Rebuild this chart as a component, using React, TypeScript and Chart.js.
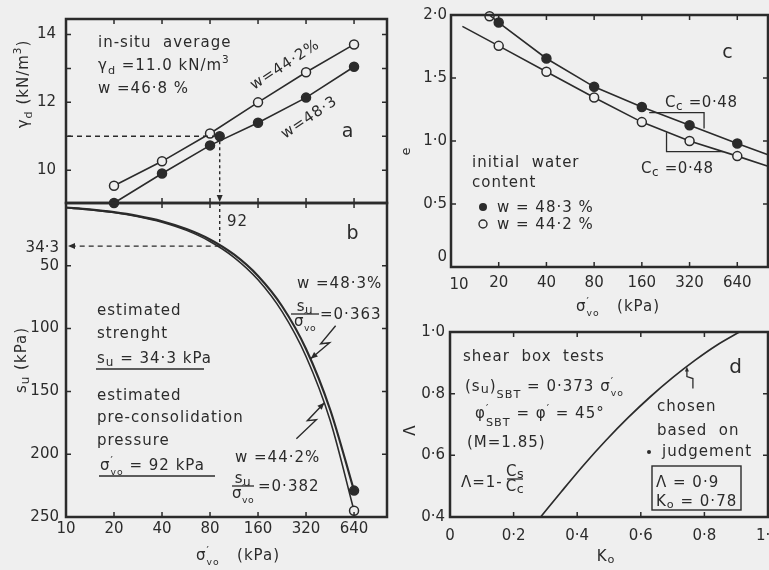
import React, { useEffect, useRef } from "react";
import { Chart, registerables } from "chart.js";
Chart.register(...registerables);

// ---------------- data ----------------
const SIGMA_TICKS = [10, 20, 40, 80, 160, 320, 640];
const SIGMA_MARKS = [20, 40, 80, 160, 320, 640];

// panel a : dry unit weight vs consolidation pressure
const A_SIGMA = [20, 40, 80, 160, 320, 640];
const A_GAMMA_W442 = [9.54, 10.26, 11.08, 12.0, 12.89, 13.71];
const A_GAMMA_W483 = [9.03, 9.9, 10.73, 11.4, 12.14, 13.05];
const A_YTICKS = [10, 12, 14];
const A_YMARKS = [10, 11, 12, 13, 14];
const INSITU_SIGMA = 92;
const INSITU_GAMMA = 11.0;
const INSITU_SU = 34.3;

// panel b : undrained strength vs pressure
const B_SIGMA = [10, 14, 20, 28, 40, 57, 80, 113, 160, 226, 320, 453, 640];
const B_SU_W483 = [3.6, 5.1, 7.3, 10.2, 14.5, 20.7, 29.0, 41.0, 58.1, 82.0, 116.2, 164.4, 229];
const B_SU_W442 = [3.8, 5.3, 7.6, 10.7, 15.3, 21.8, 30.6, 43.2, 61.1, 86.3, 122.2, 173.0, 245];
const B_YTICKS = [50, 100, 150, 200, 250];
const B_YMARKS = [50, 100, 150, 200];

// panel c : void ratio vs pressure
const C_SIGMA_W483 = [17.5, 20, 40, 80, 160, 320, 640, 1000];
const C_E_W483 = [2.0, 1.94, 1.655, 1.43, 1.27, 1.125, 0.98, 0.89];
const C_SIGMA_W442 = [11.8, 20, 40, 80, 160, 320, 640, 1000];
const C_E_W442 = [1.91, 1.755, 1.55, 1.345, 1.15, 1.0, 0.88, 0.8];
const C_TOP_SIGMA = [17.5];
const C_TOP_E = [1.99];
const C_SLOPE_UP_SIGMA = [178, 395, 395];
const C_SLOPE_UP_E = [1.225, 1.225, 1.1];
const C_SLOPE_LO_SIGMA = [229, 229, 525];
const C_SLOPE_LO_E = [1.07, 0.915, 0.915];
const C_YTICKS = [0.5, 1.0, 1.5, 2.0];
const C_YMARKS = [0.5, 1.0, 1.5];

// panel d : Lambda vs K0
const D_K0 = [0.285, 0.35, 0.42, 0.49, 0.56, 0.63, 0.7, 0.77, 0.84, 0.91];
const D_LAMBDA = [0.4, 0.482, 0.568, 0.648, 0.722, 0.79, 0.852, 0.908, 0.958, 1.0];
const D_XTICKS = [0, 0.2, 0.4, 0.6, 0.8, 1.0];
const D_XMARKS = [0.2, 0.4, 0.6, 0.8];
const D_YTICKS = [0.4, 0.6, 0.8, 1.0];
const D_YMARKS = [0.6, 0.8];

// ---------------- style / layout ----------------
const CW = 840;
const CH = 600;
const BG = "#efefef";
const INK = "#2b2b2b";
const FAMILY = '"DejaVu Sans", sans-serif';

const BOX_A = { l: 66, t: 13, r: 387, b: 203, yw: 60, xh: 0 };
const BOX_B = { l: 66, t: 203, r: 387, b: 517, yw: 60, xh: 40 };
const BOX_C = { l: 451, t: 15, r: 768, b: 267, yw: 50, xh: 30 };
const BOX_D = { l: 450, t: 332, r: 768, b: 517, yw: 50, xh: 30 };

type Run = { t: string; dy?: number; s?: number; na?: boolean };
type R = string | Run;

const fnt = (size: number) => `${size}px ${FAMILY}`;
const dot = (v: number) => (v === 0 ? "0" : v.toFixed(1).replace(".", "·"));

const SIG: R[] = [{ t: "σ" }, { t: "′", dy: -0.42, s: 0.7, na: true }, { t: "vo", dy: 0.3, s: 0.62 }];
const SU: R[] = [{ t: "s" }, { t: "u", dy: 0.22, s: 0.8 }];
const CC: R[] = [{ t: "C" }, { t: "c", dy: 0.2, s: 0.8 }];

function rich(ctx: CanvasRenderingContext2D, x: number, y: number, runs: R[], size = 15, align = "left", ls = 1) {
  const items: Run[] = runs.map((r) => (typeof r === "string" ? { t: r } : r));
  ctx.save();
  ctx.fillStyle = INK;
  ctx.textAlign = "left";
  ctx.textBaseline = "alphabetic";
  (ctx as any).letterSpacing = `${ls}px`;
  const widths = items.map((it) => {
    ctx.font = fnt(size * (it.s ?? 1));
    return ctx.measureText(it.t).width;
  });
  const total = items.reduce((a, it, i) => a + (it.na ? 0 : widths[i]), 0);
  let cx = align === "left" ? x : align === "center" ? x - total / 2 : x - total;
  items.forEach((it, i) => {
    ctx.font = fnt(size * (it.s ?? 1));
    ctx.fillText(it.t, cx, y + (it.dy ?? 0) * size);
    if (!it.na) cx += widths[i];
  });
  ctx.restore();
  return total;
}

function richRot(ctx: CanvasRenderingContext2D, x: number, y: number, ang: number, runs: R[], size = 15, align = "left", ls = 1) {
  ctx.save();
  ctx.translate(x, y);
  ctx.rotate(ang);
  rich(ctx, 0, 0, runs, size, align, ls);
  ctx.restore();
}

function seg(ctx: CanvasRenderingContext2D, pts: number[][], lw = 1.4, dash: number[] = []) {
  ctx.save();
  ctx.strokeStyle = INK;
  ctx.lineWidth = lw;
  ctx.setLineDash(dash);
  ctx.beginPath();
  pts.forEach((p, i) => (i === 0 ? ctx.moveTo(p[0], p[1]) : ctx.lineTo(p[0], p[1])));
  ctx.stroke();
  ctx.restore();
}

function arrowHead(ctx: CanvasRenderingContext2D, x: number, y: number, ang: number, len = 7, half = 3) {
  ctx.save();
  ctx.fillStyle = INK;
  ctx.beginPath();
  ctx.moveTo(x, y);
  ctx.lineTo(x - len * Math.cos(ang) + half * Math.sin(ang), y - len * Math.sin(ang) - half * Math.cos(ang));
  ctx.lineTo(x - len * Math.cos(ang) - half * Math.sin(ang), y - len * Math.sin(ang) + half * Math.cos(ang));
  ctx.closePath();
  ctx.fill();
  ctx.restore();
}

function bolt(ctx: CanvasRenderingContext2D, tx: number, ty: number, rel: number[][]) {
  const pts = rel.map((p) => [tx + p[0], ty + p[1]]);
  pts.push([tx, ty]);
  seg(ctx, pts, 1.4);
  const last = rel[rel.length - 1];
  arrowHead(ctx, tx, ty, Math.atan2(-last[1], -last[0]), 7, 3);
}

function frac(ctx: CanvasRenderingContext2D, cx: number, yBar: number, num: R[], den: R[], half: number, size = 15) {
  rich(ctx, cx, yBar - 3, num, size, "center", 0.5);
  rich(ctx, cx, yBar + 12, den, size, "center", 0.5);
  seg(ctx, [[cx - half, yBar], [cx + half, yBar]], 1.3);
}

function frame(chart: any, xm: number[], ym: number[], len = 5) {
  const { ctx, chartArea: a, scales } = chart;
  const xs = scales.x;
  const ys = scales.y;
  ctx.save();
  ctx.strokeStyle = INK;
  ctx.lineWidth = 1.5;
  ctx.beginPath();
  xm.forEach((v) => {
    const p = xs.getPixelForValue(v);
    ctx.moveTo(p, a.top);
    ctx.lineTo(p, a.top + len);
    ctx.moveTo(p, a.bottom);
    ctx.lineTo(p, a.bottom - len);
  });
  ym.forEach((v) => {
    const p = ys.getPixelForValue(v);
    ctx.moveTo(a.left, p);
    ctx.lineTo(a.left + len, p);
    ctx.moveTo(a.right, p);
    ctx.lineTo(a.right - len, p);
  });
  ctx.stroke();
  ctx.lineWidth = 2.5;
  ctx.strokeRect(a.left, a.top, a.right - a.left, a.bottom - a.top);
  ctx.restore();
}

const tickFont = { family: FAMILY, size: 15 };

function logX(min: number, max: number, show: boolean, pad: number, h: number, ticks: number[]) {
  return {
    type: "logarithmic",
    min,
    max,
    grid: { display: false, drawTicks: false },
    border: { display: false },
    ticks: { display: show, autoSkip: false, maxRotation: 0, minRotation: 0, padding: pad, font: tickFont, color: INK, callback: (v: any) => String(v) },
    afterBuildTicks: (s: any) => {
      s.ticks = ticks.map((v) => ({ value: v }));
    },
    afterFit: (s: any) => {
      s.height = h;
    },
  };
}

function linAxis(min: number, max: number, ticks: number[], fmt: (v: number) => string, pad: number, size: number, vertical: boolean, reverse = false) {
  return {
    type: "linear",
    min,
    max,
    reverse,
    grid: { display: false, drawTicks: false },
    border: { display: false },
    ticks: { autoSkip: false, maxRotation: 0, minRotation: 0, padding: pad, font: tickFont, color: INK, callback: (v: any) => fmt(Number(v)) },
    afterBuildTicks: (s: any) => {
      s.ticks = ticks.map((v) => ({ value: v }));
    },
    afterFit: (s: any) => {
      if (vertical) s.width = size;
      else s.height = size;
    },
  };
}

function pad(b: { l: number; t: number; r: number; b: number; yw: number; xh: number }) {
  return { left: b.l - b.yw, top: b.t, right: CW - b.r, bottom: CH - b.b - b.xh };
}

const pts = (xs: number[], ys: number[]) => xs.map((x, i) => ({ x, y: ys[i] }));

function base(box: any, scales: any, datasets: any[], draw: (chart: any) => void) {
  return {
    type: "scatter",
    data: { datasets },
    options: {
      responsive: false,
      animation: false,
      devicePixelRatio: 1,
      events: [],
      layout: { padding: pad(box) },
      plugins: { legend: { display: false }, tooltip: { enabled: false } },
      scales,
    },
    plugins: [{ id: "decor", afterDraw: draw }],
  } as any;
}

const lineDs = (data: any[], filled: boolean, extra: any = {}) => ({
  data,
  showLine: true,
  borderColor: INK,
  borderWidth: 1.6,
  tension: 0,
  pointRadius: 4.5,
  pointBorderWidth: 1.5,
  pointBorderColor: INK,
  pointBackgroundColor: filled ? INK : BG,
  clip: false,
  ...extra,
});

// ---------------- panels ----------------
function configA() {
  return base(
    BOX_A,
    {
      x: logX(10, 1030, false, 0, 0, SIGMA_TICKS),
      y: linAxis(9.03, 14.46, A_YTICKS, (v) => String(v), 10, BOX_A.yw, true),
    },
    [
      lineDs(pts(A_SIGMA, A_GAMMA_W442), false),
      lineDs(pts(A_SIGMA, A_GAMMA_W483), true),
      lineDs([{ x: INSITU_SIGMA, y: INSITU_GAMMA }], true, { showLine: false }),
    ],
    (chart) => {
      const { ctx, chartArea: a, scales } = chart;
      frame(chart, SIGMA_MARKS, A_YMARKS);
      const px = scales.x.getPixelForValue(INSITU_SIGMA);
      const py = scales.y.getPixelForValue(INSITU_GAMMA);
      seg(ctx, [[a.left + 2, py], [px - 5, py]], 1.4, [5, 4]);
      seg(ctx, [[px, py + 5], [px, a.bottom - 6]], 1.4, [3, 3]);
      arrowHead(ctx, px, a.bottom - 1, Math.PI / 2, 7, 3);
      rich(ctx, 98, 47, ["in-situ  average"]);
      rich(ctx, 98, 70, [{ t: "γ" }, { t: "d", dy: 0.25, s: 0.75 }, " =11.0 kN/m", { t: "3", dy: -0.45, s: 0.7 }]);
      rich(ctx, 98, 93, ["w =46·8 %"]);
      richRot(ctx, 254, 90, (-33 * Math.PI) / 180, ["w=44·2%"]);
      richRot(ctx, 285, 139, (-34 * Math.PI) / 180, ["w=48·3"]);
      rich(ctx, 348, 137, ["a"], 19, "center");
      richRot(ctx, 28, 84, -Math.PI / 2, [{ t: "γ" }, { t: "d", dy: 0.25, s: 0.75 }, " (kN/m", { t: "3", dy: -0.45, s: 0.7 }, ")"], 15, "center");
    }
  );
}

function configB() {
  const last = B_SIGMA.length - 1;
  return base(
    BOX_B,
    {
      x: logX(10, 1030, true, 3, BOX_B.xh, SIGMA_TICKS),
      y: linAxis(0, 250, B_YTICKS, (v) => String(v), 7, BOX_B.yw, true, true),
    },
    [
      lineDs(pts(B_SIGMA, B_SU_W483), true, { cubicInterpolationMode: "monotone", borderWidth: 2.2, pointRadius: (c: any) => (c.dataIndex === last ? 4.5 : 0) }),
      lineDs(pts(B_SIGMA, B_SU_W442), false, { cubicInterpolationMode: "monotone", borderWidth: 1.6, pointRadius: (c: any) => (c.dataIndex === last ? 4.5 : 0) }),
    ],
    (chart) => {
      const { ctx, chartArea: a, scales } = chart;
      frame(chart, SIGMA_MARKS, B_YMARKS);
      const px = scales.x.getPixelForValue(INSITU_SIGMA);
      const py = scales.y.getPixelForValue(INSITU_SU);
      seg(ctx, [[px, a.top], [px, py]], 1.4, [3, 3]);
      seg(ctx, [[px, py], [a.left + 8, py]], 1.4, [5, 4]);
      arrowHead(ctx, a.left + 2, py, Math.PI, 7, 3);
      rich(ctx, a.left - 7, py + 6, ["34·3"], 15, "right", 0);
      rich(ctx, 227, 226, ["92"]);
      rich(ctx, 353, 239, ["b"], 19, "center");
      // w = 48.3 %
      rich(ctx, 297, 288, ["w =48·3%"]);
      frac(ctx, 305, 314, SU, SIG, 14);
      rich(ctx, 320, 319, ["=0·363"]);
      bolt(ctx, scales.x.getPixelForValue(342), scales.y.getPixelForValue(124), [[25, -33], [10, -15], [19, -16]]);
      // w = 44.2 %
      rich(ctx, 235, 462, ["w =44·2%"]);
      frac(ctx, 243, 486, SU, SIG, 11);
      rich(ctx, 258, 491, ["=0·382"]);
      bolt(ctx, scales.x.getPixelForValue(417), scales.y.getPixelForValue(159), [[-28, 36], [-8, 17], [-17, 18]]);
      // notes
      rich(ctx, 97, 315, ["estimated"]);
      rich(ctx, 97, 338, ["strenght"]);
      rich(ctx, 97, 363, [...SU, " = 34·3 kPa"]);
      seg(ctx, [[96, 369], [204, 369]], 1.4);
      rich(ctx, 97, 400, ["estimated"]);
      rich(ctx, 97, 422, ["pre-consolidation"]);
      rich(ctx, 97, 445, ["pressure"]);
      rich(ctx, 100, 470, [...SIG, " = 92 kPa"]);
      seg(ctx, [[99, 476], [215, 476]], 1.4);
      // axis titles
      rich(ctx, 238, 560, [...SIG, "   (kPa)"], 15, "center");
      richRot(ctx, 26, 360, -Math.PI / 2, [...SU, " (kPa)"], 15, "center");
    }
  );
}

function configC() {
  const n1 = C_SIGMA_W483.length - 1;
  const n2 = C_SIGMA_W442.length - 1;
  return base(
    BOX_C,
    {
      x: logX(10, 1000, true, 7, BOX_C.xh, SIGMA_TICKS.slice(1)),
      y: linAxis(0, 2.0, C_YTICKS, dot, 4, BOX_C.yw, true),
    },
    [
      lineDs(pts(C_SIGMA_W483, C_E_W483), true, { pointRadius: (c: any) => (c.dataIndex === 0 || c.dataIndex === n1 ? 0 : 4.5) }),
      lineDs(pts(C_SIGMA_W442, C_E_W442), false, { pointRadius: (c: any) => (c.dataIndex === 0 || c.dataIndex === n2 ? 0 : 4.5) }),
      lineDs(pts(C_TOP_SIGMA, C_TOP_E), false, { showLine: false }),
      lineDs(pts(C_SLOPE_UP_SIGMA, C_SLOPE_UP_E), false, { pointRadius: 0, borderWidth: 1.3 }),
      lineDs(pts(C_SLOPE_LO_SIGMA, C_SLOPE_LO_E), false, { pointRadius: 0, borderWidth: 1.3 }),
    ],
    (chart) => {
      const { ctx, chartArea: a } = chart;
      frame(chart, SIGMA_MARKS, C_YMARKS);
      rich(ctx, a.left - 4, 261, ["0"], 15, "right", 0);
      rich(ctx, 459, 289, ["10"], 15, "center", 0);
      rich(ctx, 728, 58, ["c"], 19, "center");
      rich(ctx, 665, 107, [...CC, " =0·48"], 15, "left", 0.6);
      rich(ctx, 641, 173, [...CC, " =0·48"], 15, "left", 0.6);
      rich(ctx, 472, 167, ["initial  water"]);
      rich(ctx, 472, 187, ["content"]);
      ctx.save();
      ctx.strokeStyle = INK;
      ctx.fillStyle = INK;
      ctx.lineWidth = 1.4;
      ctx.beginPath();
      ctx.arc(483, 207, 4, 0, Math.PI * 2);
      ctx.fill();
      ctx.beginPath();
      ctx.arc(483, 224, 4, 0, Math.PI * 2);
      ctx.stroke();
      ctx.restore();
      rich(ctx, 497, 212, ["w = 48·3 %"]);
      rich(ctx, 497, 229, ["w = 44·2 %"]);
      rich(ctx, 618, 311, [...SIG, "   (kPa)"], 15, "center");
      richRot(ctx, 410, 151, -Math.PI / 2, ["e"], 13, "center");
    }
  );
}

function configD() {
  return base(
    BOX_D,
    {
      x: linAxis(0, 1.0, D_XTICKS, dot, 10, BOX_D.xh, false),
      y: linAxis(0.4, 1.0, D_YTICKS, dot, 5, BOX_D.yw, true),
    },
    [lineDs(pts(D_K0, D_LAMBDA), false, { pointRadius: 0, cubicInterpolationMode: "monotone", borderWidth: 1.7 })],
    (chart) => {
      const { ctx } = chart;
      frame(chart, D_XMARKS, D_YMARKS);
      rich(ctx, 463, 361, ["shear  box  tests"]);
      rich(ctx, 465, 391, ["(s", { t: "u", dy: 0.15, s: 0.85 }, ")", { t: "SBT", dy: 0.45, s: 0.75 }, " = 0·373 ", ...SIG]);
      rich(ctx, 475, 418, ["φ", { t: "′", dy: -0.42, s: 0.7, na: true }, { t: "SBT", dy: 0.55, s: 0.75 }, " = φ", { t: "′", dy: -0.42, s: 0.7 }, " = 45°"]);
      rich(ctx, 467, 447, ["(M=1.85)"]);
      rich(ctx, 461, 487, ["Λ=1-"]);
      frac(ctx, 515, 479, [{ t: "C" }, { t: "s", dy: 0.1, s: 0.85 }], [{ t: "C" }, { t: "c", dy: 0.1, s: 0.85 }], 8);
      rich(ctx, 736, 373, ["d"], 20, "center");
      rich(ctx, 657, 411, ["chosen"]);
      rich(ctx, 657, 435, ["based  on"]);
      rich(ctx, 662, 456, ["judgement"]);
      ctx.save();
      ctx.fillStyle = INK;
      ctx.beginPath();
      ctx.arc(649, 452, 2, 0, Math.PI * 2);
      ctx.fill();
      ctx.strokeStyle = INK;
      ctx.lineWidth = 1.4;
      ctx.strokeRect(652, 466, 89, 44);
      ctx.restore();
      rich(ctx, 656, 487, ["Λ = 0·9"]);
      rich(ctx, 656, 506, ["K", { t: "o", dy: 0.15, s: 0.75 }, " = 0·78"]);
      // small pointer to the curve
      const tx = chart.scales.x.getPixelForValue(0.745);
      const ty = chart.scales.y.getPixelForValue(0.888);
      seg(ctx, [[tx + 6, ty + 22], [tx + 6, ty + 12], [tx, ty + 10], [tx, ty + 3]], 1.3);
      arrowHead(ctx, tx, ty, -Math.PI / 2, 5, 2);
      rich(ctx, 606, 561, ["K", { t: "o", dy: 0.15, s: 0.75 }], 15, "center");
      richRot(ctx, 415, 430, -Math.PI / 2, ["Λ"], 15, "center");
    }
  );
}

export default function App() {
  const r1 = useRef<HTMLCanvasElement>(null);
  const r2 = useRef<HTMLCanvasElement>(null);
  const r3 = useRef<HTMLCanvasElement>(null);
  const r4 = useRef<HTMLCanvasElement>(null);
  useEffect(() => {
    const charts = [
      new Chart(r1.current as HTMLCanvasElement, configA()),
      new Chart(r2.current as HTMLCanvasElement, configB()),
      new Chart(r3.current as HTMLCanvasElement, configC()),
      new Chart(r4.current as HTMLCanvasElement, configD()),
    ];
    return () => charts.forEach((c) => c.destroy());
  }, []);
  const cs: React.CSSProperties = { position: "absolute", left: 0, top: 0, width: CW, height: CH };
  return (
    <div style={{ position: "absolute", left: 0, top: 0, width: 769, height: 570, overflow: "hidden", background: BG }}>
      <canvas ref={r1} width={CW} height={CH} style={cs} />
      <canvas ref={r2} width={CW} height={CH} style={cs} />
      <canvas ref={r3} width={CW} height={CH} style={cs} />
      <canvas ref={r4} width={CW} height={CH} style={cs} />
    </div>
  );
}
